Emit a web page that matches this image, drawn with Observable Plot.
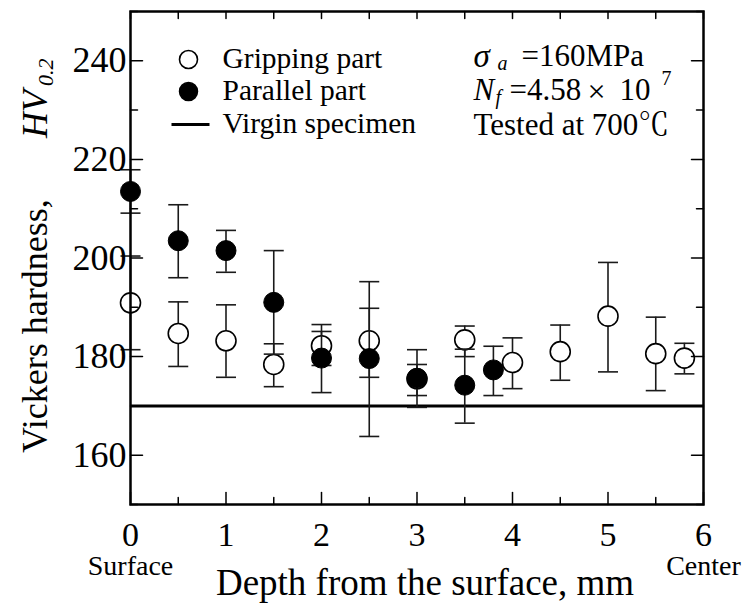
<!DOCTYPE html>
<html>
<head>
<meta charset="utf-8">
<script src="https://cdn.jsdelivr.net/npm/d3@7"></script>
<script src="https://cdn.jsdelivr.net/npm/@observablehq/plot@0.6"></script>
<style>
  html, body { margin: 0; padding: 0; background: #fff; }
  #chart svg { display: block; }
</style>
</head>
<body>
<div id="chart"></div>
<script>
// ---- data ----
const gripX  = [0, 0.5, 1, 1.5, 2, 2.5, 3, 3.5, 4, 4.5, 5, 5.5, 5.8];
const gripY  = [190.9, 184.7, 183.2, 178.4, 182.2, 183.2, 175.5, 183.4, 178.8, 181.0, 188.2, 180.6, 179.7];
const gripLo = [181.4, 178.0, 175.8, 173.9, 178.2, 175.8, 172.1, 180.0, 173.5, 175.2, 176.9, 173.1, 176.5];
const gripHi = [200.4, 191.1, 190.5, 182.6, 185.1, 189.8, 178.4, 186.2, 183.8, 186.4, 199.1, 188.0, 182.7];

const parX  = [0, 0.5, 1, 1.5, 2, 2.5, 3, 3.5, 3.8];
const parY  = [213.5, 203.5, 201.5, 191.0, 179.7, 179.6, 175.6, 174.2, 177.3];
const parLo = [209.1, 196.0, 197.1, 180.5, 172.7, 163.8, 169.7, 166.5, 172.1];
const parHi = [217.9, 210.8, 205.6, 201.5, 186.5, 195.2, 181.4, 181.5, 182.1];

const virginHV = [170];

const xTicks = [0, 1, 2, 3, 4, 5, 6];
const xMinorTicks = [0.5, 1.5, 2.5, 3.5, 4.5, 5.5];
const yTicks = [160, 180, 200, 220, 240];
const yMinorTicks = [150, 170, 190, 210, 230, 250];

const legendLabels = ["Gripping part", "Parallel part", "Virgin specimen"];

// ---- build tables ----
const grip = gripX.map((x, i) => ({x, y: gripY[i], lo: gripLo[i], hi: gripHi[i]}));
const par  = parX.map((x, i) => ({x, y: parY[i], lo: parLo[i], hi: parHi[i]}));

const FONT = "'Liberation Serif', 'Times New Roman', serif";
const FONT_CJK = "'Liberation Serif', 'Noto Serif CJK JP', 'Noto Sans CJK JP', serif";

// horizontal-line symbol (error-bar caps, legend line)
const hline = {
  draw(context, size) {
    const h = Math.sqrt(size / Math.PI);
    context.moveTo(-h, 0);
    context.lineTo(h, 0);
  }
};
// straight tick shape for inward ticks
const tickShape = {
  draw(context, l) {
    context.moveTo(0, 0);
    context.lineTo(0, -l);
  }
};

function errorBars(data) {
  return [
    Plot.ruleX(data, {x: "x", y1: "lo", y2: "hi", stroke: "#1a1a1a", strokeWidth: 1.6}),
    Plot.dot(data, {x: "x", y: "lo", symbol: hline, r: 10, stroke: "#1a1a1a", strokeWidth: 1.6, fill: "none"}),
    Plot.dot(data, {x: "x", y: "hi", symbol: hline, r: 10, stroke: "#1a1a1a", strokeWidth: 1.6, fill: "none"})
  ];
}

// a text placed relative to the frame's top-left corner
function label(str, dx, dy, fontSize, extra = {}) {
  return Plot.text([str], {frameAnchor: "top-left", dx, dy, textAnchor: "start", lineAnchor: "middle",
    fontSize, fontFamily: FONT, fill: "#000", text: d => d, ...extra});
}

const plot = Plot.plot({
  width: 749,
  height: 605,
  marginLeft: 130,
  marginRight: 46,
  marginTop: 11,
  marginBottom: 101,
  style: {fontFamily: FONT, background: "#fff", color: "#000"},
  x: {domain: [0, 6]},
  y: {domain: [150, 250]},
  marks: [
    // virgin specimen line
    Plot.ruleY(virginHV, {stroke: "#000", strokeWidth: 3}),
    // gripping part
    ...errorBars(grip),
    Plot.dot(grip, {x: "x", y: "y", r: 10, fill: "#fff", stroke: "#000", strokeWidth: 1.6}),
    // parallel part
    ...errorBars(par),
    Plot.dot(par, {x: "x", y: "y", r: 10, fill: "#000", stroke: "#000", strokeWidth: 1}),

    // frame
    Plot.frame({stroke: "#000", strokeWidth: 2.5}),

    // inward ticks
    Plot.vector(xTicks, {x: d => d, frameAnchor: "bottom", length: 12, rotate: 0, anchor: "start", shape: tickShape, stroke: "#000", strokeWidth: 1.5}),
    Plot.vector(xMinorTicks, {x: d => d, frameAnchor: "bottom", length: 7, rotate: 0, anchor: "start", shape: tickShape, stroke: "#000", strokeWidth: 1.5}),
    Plot.vector([...xTicks, ...xMinorTicks], {x: d => d, frameAnchor: "top", length: 7, rotate: 180, anchor: "start", shape: tickShape, stroke: "#000", strokeWidth: 1.5}),
    Plot.vector(yTicks, {y: d => d, frameAnchor: "left", length: 12, rotate: 90, anchor: "start", shape: tickShape, stroke: "#000", strokeWidth: 1.5}),
    Plot.vector(yMinorTicks, {y: d => d, frameAnchor: "left", length: 7, rotate: 90, anchor: "start", shape: tickShape, stroke: "#000", strokeWidth: 1.5}),
    Plot.vector(yTicks, {y: d => d, frameAnchor: "right", length: 12, rotate: -90, anchor: "start", shape: tickShape, stroke: "#000", strokeWidth: 1.5}),
    Plot.vector(yMinorTicks, {y: d => d, frameAnchor: "right", length: 7, rotate: -90, anchor: "start", shape: tickShape, stroke: "#000", strokeWidth: 1.5}),

    // tick labels
    Plot.axisX({ticks: xTicks, tickSize: 0, tickPadding: 17, fontSize: 34, fontFamily: FONT, label: null, tickFormat: d => String(d)}),
    Plot.axisY({ticks: yTicks, tickSize: 0, tickPadding: 4, fontSize: 36, fontFamily: FONT, label: null, tickFormat: d => String(d)}),

    // x-axis end labels and title
    Plot.text(["Surface"], {frameAnchor: "bottom-left", dy: 62, lineAnchor: "middle", textAnchor: "middle", fontSize: 28, fontFamily: FONT, text: d => d}),
    Plot.text(["Center"], {frameAnchor: "bottom-right", dy: 62, lineAnchor: "middle", textAnchor: "middle", fontSize: 28, fontFamily: FONT, text: d => d}),
    Plot.text(["Depth from the surface, mm"], {frameAnchor: "bottom", dy: 79, dx: 8, lineAnchor: "middle", textAnchor: "middle", fontSize: 37, fontFamily: FONT, text: d => d}),

    // y-axis title
    Plot.text(["Vickers hardness,"], {frameAnchor: "left", dx: -95, dy: 195, rotate: -90, textAnchor: "start", lineAnchor: "middle", fontSize: 36, fontFamily: FONT, text: d => d}),
    Plot.text(["HV"], {frameAnchor: "left", dx: -95, dy: -120, rotate: -90, textAnchor: "start", lineAnchor: "middle", fontSize: 36, fontStyle: "italic", fontFamily: FONT, text: d => d}),
    Plot.text(["0.2"], {frameAnchor: "left", dx: -85, dy: -172, rotate: -90, textAnchor: "start", lineAnchor: "middle", fontSize: 22, fontStyle: "italic", fontFamily: FONT, text: d => d}),

    // legend
    Plot.dot([legendLabels[0]], {frameAnchor: "top-left", dx: 58, dy: 48, r: 9, fill: "#fff", stroke: "#000", strokeWidth: 1.6}),
    Plot.dot([legendLabels[1]], {frameAnchor: "top-left", dx: 58, dy: 80, r: 9, fill: "#000", stroke: "#000"}),
    Plot.dot([legendLabels[2]], {frameAnchor: "top-left", dx: 60, dy: 113, r: 19, symbol: hline, stroke: "#000", strokeWidth: 3}),
    label(legendLabels[0], 92, 47, 29.5),
    label(legendLabels[1], 92, 79, 29.5),
    label(legendLabels[2], 92, 112, 29.5),

    // condition annotations
    label("σ", 343, 45, 33, {fontStyle: "italic"}),
    label("a", 367, 52, 20, {fontStyle: "italic"}),
    label("=160MPa", 391, 45, 31),
    label("N", 343, 79, 31, {fontStyle: "italic"}),
    label("f", 365, 86, 20, {fontStyle: "italic"}),
    label("=4.58", 379, 79, 31),
    label("×", 457, 80, 32),
    label("10", 489, 79, 31),
    label("7", 531, 67, 20),
    label("Tested at 700℃", 343, 114, 31, {fontFamily: FONT_CJK})
  ]
});

document.getElementById("chart").appendChild(plot);
</script>
</body>
</html>
